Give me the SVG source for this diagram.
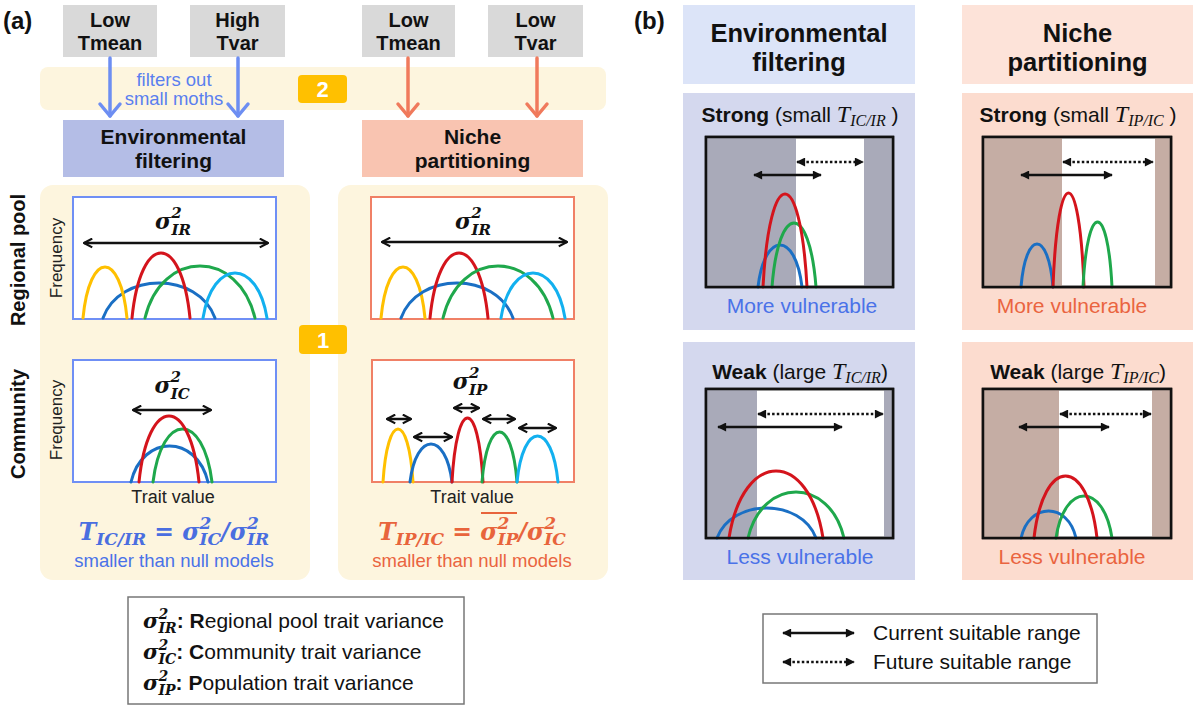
<svg xmlns="http://www.w3.org/2000/svg" width="1200" height="710" viewBox="0 0 1200 710">
<defs>
<style>
.sans{font-family:"Liberation Sans",Arial,sans-serif}
.b{font-weight:bold}
.lbl{font-family:"Liberation Sans",Arial,sans-serif;font-weight:bold;font-size:20px;fill:#111}
.pl{font-family:"Liberation Sans",Arial,sans-serif;font-weight:bold;font-size:24px;fill:#111}
.hd{font-family:"Liberation Sans",Arial,sans-serif;font-weight:bold;font-size:21px;fill:#111;text-anchor:middle}
.hdg{font-family:"Liberation Sans",Arial,sans-serif;font-weight:bold;font-size:20px;fill:#111;text-anchor:middle}
.hdb{font-family:"Liberation Sans",Arial,sans-serif;font-weight:bold;font-size:25.5px;fill:#111;text-anchor:middle}
.gbox{fill:#d9d9d9}
.yel{fill:#fdf5de}
.badge{fill:#ffc000}
.bt{font-family:"Liberation Sans",Arial,sans-serif;font-weight:bold;font-size:22px;fill:#fff;text-anchor:middle}
.filt{font-family:"Liberation Sans",Arial,sans-serif;font-size:18.5px;fill:#5a7fef;text-anchor:middle}
.freq{font-family:"Liberation Sans",Arial,sans-serif;font-size:17px;fill:#222;text-anchor:middle}
.tv{font-family:"Liberation Sans",Arial,sans-serif;font-size:18px;fill:#222;text-anchor:middle}
.sg{font-family:"DejaVu Serif","Liberation Serif",serif;font-weight:bold;font-style:italic;font-size:22px;fill:#111;text-anchor:middle}
.ss{font-size:15px}
.fm{font-family:"DejaVu Serif","Liberation Serif",serif;font-weight:bold;font-style:italic;font-size:23.5px;text-anchor:middle}
.fs{font-size:17px}
.small{font-family:"Liberation Sans",Arial,sans-serif;font-size:18.5px;text-anchor:middle}
.cb{fill:#fff;stroke:#6f8ff5;stroke-width:2}
.co{fill:#fff;stroke:#f08066;stroke-width:2}
.cv{fill:none;stroke-width:3;stroke-linecap:round}
.y{stroke:#ffc000}.bl{stroke:#1a6fc4}.r{stroke:#d4141c}.g{stroke:#1fa84c}.lb{stroke:#12b0ef}
.dbl{stroke:#111;stroke-width:2.5;marker-start:url(#ch);marker-end:url(#ch)}
.sol{stroke:#111;stroke-width:2.5;marker-start:url(#tri);marker-end:url(#tri)}
.dot{stroke:#111;stroke-width:2.5;stroke-dasharray:2.5 2.2;marker-start:url(#tri);marker-end:url(#tri)}
.pc{fill:#fff;stroke:#111;stroke-width:2.5}
.fr{fill:none;stroke:#111;stroke-width:2.5}
.envL{fill:#d4d8ee}.nicL{fill:#fcdccf}
.shE{fill:#a9aab9}.shN{fill:#c5ada4}
.st{font-family:"Liberation Sans",Arial,sans-serif;font-size:21px;fill:#111;text-anchor:middle}
.it{font-family:"Liberation Serif","Times New Roman",serif;font-style:italic;font-size:24px}
.its{font-size:16px}
.vb{font-family:"Liberation Sans",Arial,sans-serif;font-size:21px;fill:#4a72e8;text-anchor:middle}
.vo{font-family:"Liberation Sans",Arial,sans-serif;font-size:21px;fill:#ea6440;text-anchor:middle}
.leg{font-family:"Liberation Sans",Arial,sans-serif;font-size:21px;fill:#111}
.lm{font-family:"DejaVu Serif","Liberation Serif",serif;font-weight:bold;font-style:italic;font-size:21px}
.lms{font-size:14px}
</style>
<marker id="ch" viewBox="0 0 10 10" refX="9" refY="5" markerWidth="11" markerHeight="11" markerUnits="userSpaceOnUse" orient="auto-start-reverse"><path d="M1.5,1 L9,5 L1.5,9" fill="none" stroke="#111" stroke-width="2"/></marker>
<marker id="tri" viewBox="0 0 10 10" refX="9" refY="5" markerWidth="10" markerHeight="9" markerUnits="userSpaceOnUse" orient="auto-start-reverse"><path d="M0,0 L10,5 L0,10 z" fill="#111"/></marker>
</defs>
<rect width="1200" height="710" fill="#fff"/>

<!-- ================= Panel (a) ================= -->
<text class="pl" x="3" y="29">(a)</text>
<rect id="band2" class="yel" x="40" y="67" width="566" height="43" rx="8"/>

<g id="lowTmeanA"><rect class="gbox" x="63" y="5" width="94" height="52"/><text class="hdg"><tspan x="110" y="27">Low</tspan><tspan x="110" y="50">Tmean</tspan></text></g>
<g id="highTvar"><rect class="gbox" x="190" y="5" width="95" height="52"/><text class="hdg"><tspan x="237.5" y="27">High</tspan><tspan x="237.5" y="50">Tvar</tspan></text></g>
<g id="lowTmeanN"><rect class="gbox" x="362" y="5" width="93" height="52"/><text class="hdg"><tspan x="408.5" y="27">Low</tspan><tspan x="408.5" y="50">Tmean</tspan></text></g>
<g id="lowTvar"><rect class="gbox" x="488" y="5" width="95" height="52"/><text class="hdg"><tspan x="535.5" y="27">Low</tspan><tspan x="535.5" y="50">Tvar</tspan></text></g>

<g id="connectors">
<g fill="none" stroke="#6d8ef2" stroke-width="3.5" stroke-linecap="round" stroke-linejoin="round">
<line x1="110" y1="58" x2="110" y2="116"/><polyline points="100,104 110,116 120,104"/>
<line x1="238" y1="58" x2="238" y2="116"/><polyline points="228,104 238,116 248,104"/>
</g>
<g fill="none" stroke="#f07a5c" stroke-width="3.5" stroke-linecap="round" stroke-linejoin="round">
<line x1="408" y1="58" x2="408" y2="116"/><polyline points="398,104 408,116 418,104"/>
<line x1="537" y1="58" x2="537" y2="116"/><polyline points="527,104 537,116 547,104"/>
</g>
<polygon fill="#6d8ef2" points="167,324 185,324 185,339 195,339 176,356 154,339 167,339"/>
<polygon fill="#f07a5c" points="464,324 482,324 482,339 493,339 472.5,356 452,339 464,339"/>
</g>

<text class="filt" x="174" y="86">filters out</text>
<text class="filt" x="174" y="105">small moths</text>

<g id="badge2"><rect class="badge" x="298" y="75" width="49" height="28" rx="4"/><text class="bt" x="322.5" y="97">2</text></g>

<g id="envA"><rect x="63" y="120" width="221" height="57" fill="#b4bde6"/><text class="hd"><tspan x="173.5" y="144">Environmental</tspan><tspan x="173.5" y="168">filtering</tspan></text></g>
<g id="nicheA"><rect x="362" y="120" width="221" height="57" fill="#f9c4b1"/><text class="hd"><tspan x="472.5" y="144">Niche</tspan><tspan x="472.5" y="168">partitioning</tspan></text></g>

<rect class="yel" x="40" y="185" width="270" height="395" rx="13"/>
<rect class="yel" x="338" y="185" width="270" height="395" rx="13"/>

<text class="lbl" transform="translate(25,260) rotate(-90)" text-anchor="middle">Regional pool</text>
<text class="lbl" transform="translate(25,424) rotate(-90)" text-anchor="middle">Community</text>

<g id="envRegional">
<rect class="cb" x="73" y="197" width="203" height="122"/>
<text class="freq" transform="translate(62,258) rotate(-90)">Frequency</text>
<text class="sg" x="173" y="229">σ<tspan class="ss" dy="-11">2</tspan><tspan class="ss" dx="-10.4" dy="17">IR</tspan></text>
<line class="dbl" x1="84" y1="243" x2="268" y2="243"/>
<path class="cv bl" d="M103,318 C119.8,271.3 198.2,271.3 215,318"/>
<path class="cv y" d="M83,318 C89.6,250 120.4,250 127,318"/>
<path class="cv g" d="M145,318 C161.5,248.7 238.5,248.7 255,318"/>
<path class="cv r" d="M132,318 C140.7,231.3 181.3,231.3 190,318"/>
<path class="cv lb" d="M203,318 C212.6,258 257.4,258 267,318"/>
</g>

<g id="envCommunity">
<rect class="cb" x="73" y="360" width="203" height="122"/>
<text class="freq" transform="translate(62,420) rotate(-90)">Frequency</text>
<text class="sg" x="172" y="393">σ<tspan class="ss" dy="-11">2</tspan><tspan class="ss" dx="-10.4" dy="17">IC</tspan></text>
<line class="dbl" x1="133" y1="410" x2="211" y2="410"/>
<path class="cv bl" d="M131,482 C142.6,434 196.4,434 208,482"/>
<path class="cv g" d="M153,482 C161.9,411.3 203.2,411.3 212,482"/>
<path class="cv r" d="M139,482 C148,394 190,394 199,482"/>
<text class="tv" x="173" y="503">Trait value</text>
</g>

<g id="nicheRegional">
<rect class="co" x="371" y="197" width="203" height="122"/>
<text class="sg" x="473" y="229">σ<tspan class="ss" dy="-11">2</tspan><tspan class="ss" dx="-10.4" dy="17">IR</tspan></text>
<line class="dbl" x1="382" y1="242" x2="567" y2="242"/>
<path class="cv y" d="M381,318 C387.6,250 418.4,250 425,318"/>
<path class="cv bl" d="M401,318 C417.8,271.3 496.2,271.3 513,318"/>
<path class="cv r" d="M430,318 C438.7,231.3 479.3,231.3 488,318"/>
<path class="cv g" d="M443,318 C459.5,248.7 536.5,248.7 553,318"/>
<path class="cv lb" d="M501,318 C510.6,258 555.4,258 565,318"/>
</g>

<g id="nicheCommunity">
<rect class="co" x="372" y="360" width="202" height="122"/>
<text class="sg" x="470" y="389">σ<tspan class="ss" dy="-11">2</tspan><tspan class="ss" dx="-10.4" dy="17">IP</tspan></text>
<line class="dbl" x1="387" y1="419" x2="411" y2="419"/>
<line class="dbl" x1="414" y1="437" x2="452" y2="437"/>
<line class="dbl" x1="454" y1="408" x2="479" y2="408"/>
<line class="dbl" x1="483" y1="419" x2="515" y2="419"/>
<line class="dbl" x1="519" y1="428" x2="556" y2="428"/>
<path class="cv y" d="M383,482 C387.5,411.3 408.5,411.3 413,482"/>
<path class="cv bl" d="M410,482 C416.3,431.3 445.7,431.3 452,482"/>
<path class="cv r" d="M452,482 C456.7,396.7 478.4,396.7 483,482"/>
<path class="cv g" d="M482,482 C487.3,415.3 511.8,415.3 517,482"/>
<path class="cv lb" d="M517,482 C523.2,420.7 551.9,420.7 558,482"/>
<text class="tv" x="472" y="503">Trait value</text>
</g>

<g id="badge1"><rect class="badge" x="299" y="325" width="48" height="29" rx="4"/><text class="bt" x="323" y="348">1</text></g>

<g id="formulaEnv">
<text class="fm" x="174" y="540" fill="#4a6ee0">T<tspan class="fs" dy="5">IC/IR</tspan><tspan dy="-5"> = σ</tspan><tspan class="fs" dy="-11">2</tspan><tspan class="fs" dx="-11.8" dy="16">IC</tspan><tspan dy="-5">/σ</tspan><tspan class="fs" dy="-11">2</tspan><tspan class="fs" dx="-11.8" dy="16">IR</tspan></text>
<text class="small" x="174" y="567" fill="#4a72e8">smaller than null models</text>
</g>
<g id="formulaNiche">
<text class="fm" x="472" y="540" fill="#e8643c">T<tspan class="fs" dy="5">IP/IC</tspan><tspan dy="-5"> = σ</tspan><tspan class="fs" dy="-11">2</tspan><tspan class="fs" dx="-11.8" dy="16">IP</tspan><tspan dy="-5">/σ</tspan><tspan class="fs" dy="-11">2</tspan><tspan class="fs" dx="-11.8" dy="16">IC</tspan></text>
<line x1="481" y1="513" x2="517" y2="513" stroke="#e8643c" stroke-width="1.8"/>
<text class="small" x="472" y="567" fill="#ea6440">smaller than null models</text>
</g>

<g id="legendA">
<rect x="128" y="597" width="336" height="107" fill="#fff" stroke="#777" stroke-width="1.5"/>
<text class="leg" x="143" y="628"><tspan class="lm">σ</tspan><tspan class="lm lms" dy="-9">2</tspan><tspan class="lm lms" dx="-9.7" dy="14">IR</tspan><tspan class="b" dy="-5">: R</tspan><tspan>egional pool trait variance</tspan></text>
<text class="leg" x="143" y="659"><tspan class="lm">σ</tspan><tspan class="lm lms" dy="-9">2</tspan><tspan class="lm lms" dx="-9.7" dy="14">IC</tspan><tspan class="b" dy="-5">: C</tspan><tspan>ommunity trait variance</tspan></text>
<text class="leg" x="143" y="690"><tspan class="lm">σ</tspan><tspan class="lm lms" dy="-9">2</tspan><tspan class="lm lms" dx="-9.7" dy="14">IP</tspan><tspan class="b" dy="-5">: P</tspan><tspan>opulation trait variance</tspan></text>
</g>

<!-- ================= Panel (b) ================= -->
<text class="pl" x="634" y="29">(b)</text>

<g id="envHeader"><rect x="683" y="5" width="232" height="79" fill="#dce4f8"/><text class="hdb"><tspan x="799" y="42">Environmental</tspan><tspan x="799" y="71">filtering</tspan></text></g>
<g id="nicheHeader"><rect x="962" y="5" width="231" height="79" fill="#fde3d9"/><text class="hdb"><tspan x="1077.5" y="42">Niche</tspan><tspan x="1077.5" y="71">partitioning</tspan></text></g>

<g id="envStrong">
<rect class="envL" x="683" y="93" width="232" height="237"/>
<text class="st" x="800" y="122"><tspan class="b">Strong</tspan> (small <tspan class="it">T<tspan class="its" dy="4">IC/IR</tspan></tspan><tspan dy="-4"> )</tspan></text>
<rect class="pc" x="706" y="137" width="187" height="150"/>
<rect class="shE" x="707" y="138" width="89" height="148"/>
<rect class="shE" x="864" y="138" width="28" height="148"/>
<line class="dot" x1="797" y1="162" x2="863" y2="162"/>
<line class="sol" x1="754" y1="175" x2="821" y2="175"/>
<path class="cv bl" d="M758,287 C764.6,231 795.4,231 802,287"/>
<path class="cv g" d="M772,287 C778.6,201.7 809.4,201.7 816,287"/>
<path class="cv r" d="M763,287 C769.6,163 800.4,163 807,287"/>
<rect class="fr" x="706" y="137" width="187" height="150"/>
<text class="vb" x="802" y="313">More vulnerable</text>
</g>

<g id="nicheStrong">
<rect class="nicL" x="962" y="93" width="231" height="237"/>
<text class="st" x="1078" y="122"><tspan class="b">Strong</tspan> (small <tspan class="it">T<tspan class="its" dy="4">IP/IC</tspan></tspan><tspan dy="-4"> )</tspan></text>
<rect class="pc" x="983" y="137" width="188" height="150"/>
<rect class="shN" x="984" y="138" width="78" height="148"/>
<rect class="shN" x="1155" y="138" width="15" height="148"/>
<line class="dot" x1="1063" y1="162" x2="1153" y2="162"/>
<line class="sol" x1="1021" y1="175" x2="1112" y2="175"/>
<path class="cv bl" d="M1021,287 C1025.8,229.7 1048.2,229.7 1053,287"/>
<path class="cv r" d="M1053,287 C1057.7,161.7 1079.4,161.7 1084,287"/>
<path class="cv g" d="M1083,287 C1087.4,200.3 1107.7,200.3 1112,287"/>
<rect class="fr" x="983" y="137" width="188" height="150"/>
<text class="vo" x="1072" y="313">More vulnerable</text>
</g>

<g id="envWeak">
<rect class="envL" x="683" y="342" width="232" height="238"/>
<text class="st" x="800" y="379"><tspan class="b">Weak</tspan> (large <tspan class="it">T<tspan class="its" dy="4">IC/IR</tspan></tspan><tspan dy="-4">)</tspan></text>
<rect class="pc" x="706" y="389" width="187" height="149"/>
<rect class="shE" x="707" y="390" width="50" height="147"/>
<rect class="shE" x="884" y="390" width="8" height="147"/>
<line class="dot" x1="758" y1="414" x2="883" y2="414"/>
<line class="sol" x1="718" y1="427" x2="842" y2="427"/>
<path class="cv bl" d="M717,538 C731.9,498 801.2,498 816,538"/>
<path class="cv g" d="M748,538 C762.4,476.7 829.6,476.7 844,538"/>
<path class="cv r" d="M729,538 C743.1,448.7 808.9,448.7 823,538"/>
<rect class="fr" x="706" y="389" width="187" height="149"/>
<text class="vb" x="800" y="564">Less vulnerable</text>
</g>

<g id="nicheWeak">
<rect class="nicL" x="962" y="342" width="231" height="238"/>
<text class="st" x="1078" y="379"><tspan class="b">Weak</tspan> (large <tspan class="it">T<tspan class="its" dy="4">IP/IC</tspan></tspan><tspan dy="-4">)</tspan></text>
<rect class="pc" x="983" y="389" width="188" height="149"/>
<rect class="shN" x="984" y="390" width="75" height="147"/>
<rect class="shN" x="1152" y="390" width="18" height="147"/>
<line class="dot" x1="1060" y1="414" x2="1151" y2="414"/>
<line class="sol" x1="1019" y1="427" x2="1109" y2="427"/>
<path class="cv bl" d="M1021,538 C1029.3,502 1067.8,502 1076,538"/>
<path class="cv g" d="M1056,538 C1064.4,482 1103.6,482 1112,538"/>
<path class="cv r" d="M1034,538 C1043.5,455.3 1087.6,455.3 1097,538"/>
<rect class="fr" x="983" y="389" width="188" height="149"/>
<text class="vo" x="1072" y="564">Less vulnerable</text>
</g>

<g id="legendB">
<rect x="763" y="614" width="334" height="69" fill="#fff" stroke="#777" stroke-width="1.5"/>
<line class="sol" x1="783" y1="633" x2="854" y2="633"/>
<line class="dot" x1="783" y1="662" x2="854" y2="662"/>
<text class="leg" x="873" y="640">Current suitable range</text>
<text class="leg" x="873" y="669">Future suitable range</text>
</g>
</svg>
